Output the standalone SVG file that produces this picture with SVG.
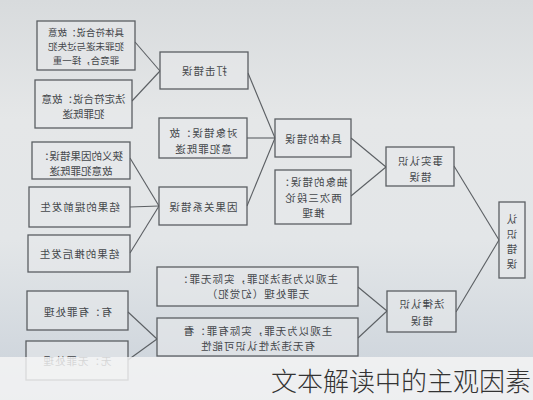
<svg xmlns="http://www.w3.org/2000/svg" width="533" height="400" viewBox="0 0 533 400">
<defs>
<linearGradient id="bg" x1="0" y1="0" x2="0" y2="1">
<stop offset="0" stop-color="#d8dbdd"/>
<stop offset="0.3" stop-color="#e5e7e8"/>
<stop offset="0.6" stop-color="#e3e6e8"/>
<stop offset="0.85" stop-color="#d3d9df"/>
<stop offset="1" stop-color="#c9d1d9"/>
</linearGradient>
<style>
.box{fill:#e8eaeb;fill-opacity:0.55;stroke:#5b5f63;stroke-width:1.3}
.ln{stroke:#5b5f63;stroke-width:1.1;fill:none}
.t{font-family:"Noto Sans CJK SC","Noto Sans CJK TC",sans-serif;font-size:10.5px;fill:#44474b;text-anchor:middle;dominant-baseline:central}
.s{font-size:9.5px}
.w{letter-spacing:1px}
.wm{font-family:"Noto Sans CJK SC",sans-serif;font-size:26px;fill:#333;font-weight:300}
</style>
</defs>
<rect x="0" y="0" width="533" height="400" fill="url(#bg)"/>
<g id="connectors">
<line class="ln" x1="135" y1="42" x2="160" y2="71"/>
<line class="ln" x1="132" y1="101" x2="160" y2="71"/>
<line class="ln" x1="130" y1="158" x2="159" y2="206"/>
<line class="ln" x1="130" y1="207" x2="159" y2="206"/>
<line class="ln" x1="130" y1="253" x2="159" y2="206"/>
<line class="ln" x1="128" y1="312" x2="157" y2="339"/>
<line class="ln" x1="128" y1="360" x2="157" y2="339"/>
<line class="ln" x1="248" y1="73" x2="275" y2="138"/>
<line class="ln" x1="247" y1="138" x2="275" y2="138"/>
<line class="ln" x1="247" y1="206" x2="275" y2="138"/>
<line class="ln" x1="351" y1="138" x2="386" y2="167"/>
<line class="ln" x1="351" y1="196" x2="386" y2="167"/>
<line class="ln" x1="358" y1="287" x2="387" y2="311"/>
<line class="ln" x1="358" y1="338" x2="387" y2="311"/>
<line class="ln" x1="454" y1="166" x2="499" y2="240"/>
<line class="ln" x1="456" y1="312" x2="499" y2="240"/>
</g>
<g id="n1"><rect class="box" x="37" y="21" width="98" height="49"/>
<text class="t s" transform="translate(86 45.5) scale(-1 1)"><tspan x="0" y="-14">具体符合说：故意</tspan><tspan x="0" y="0">犯罪未遂与过失犯</tspan><tspan x="0" y="14">罪竞合，择一重</tspan></text></g>
<g id="n2"><rect class="box" x="35" y="80" width="97" height="48"/>
<text class="t" transform="translate(83.5 105) scale(-1 1)"><tspan x="0" y="-7.5">法定符合说：故意</tspan><tspan x="0" y="7.5">犯罪既遂</tspan></text></g>
<g id="n3"><rect class="box" x="160" y="52" width="88" height="37"/>
<text class="t w" transform="translate(204 70.5) scale(-1 1)">打击错误</text></g>
<g id="n4"><rect class="box" x="159" y="118" width="88" height="40"/>
<text class="t w" transform="translate(203 140) scale(-1 1)"><tspan x="0" y="-8">对象错误：故</tspan><tspan x="0" y="8">意犯罪既遂</tspan></text></g>
<g id="n5"><rect class="box" x="32" y="142" width="98" height="37"/>
<text class="t" transform="translate(81 162.5) scale(-1 1)"><tspan x="0" y="-7.5">狭义的因果错误：</tspan><tspan x="0" y="7.5">故意犯罪既遂</tspan></text></g>
<g id="n6"><rect class="box" x="29" y="187" width="101" height="40"/>
<text class="t w" transform="translate(79.5 206) scale(-1 1)">结果的提前发生</text></g>
<g id="n7"><rect class="box" x="28" y="235" width="102" height="37"/>
<text class="t w" transform="translate(79 253) scale(-1 1)">结果的推后发生</text></g>
<g id="n8"><rect class="box" x="159" y="187" width="88" height="38"/>
<text class="t w" transform="translate(203 206) scale(-1 1)">因果关系错误</text></g>
<g id="n9"><rect class="box" x="275" y="119" width="76" height="38"/>
<text class="t w" transform="translate(313 138) scale(-1 1)">具体的错误</text></g>
<g id="n10"><rect class="box" x="275" y="170" width="76" height="54"/>
<text class="t w" transform="translate(313 196.5) scale(-1 1)"><tspan x="0" y="-15.5">抽象的错误：</tspan><tspan x="0" y="0">两次三段论</tspan><tspan x="0" y="15.5">推理</tspan></text></g>
<g id="n11"><rect class="box" x="386" y="147" width="68" height="39"/>
<text class="t w" transform="translate(420 168) scale(-1 1)"><tspan x="0" y="-8">事实认识</tspan><tspan x="0" y="8">错误</tspan></text></g>
<g id="n12"><rect class="box" x="499" y="202" width="26" height="76"/>
<text class="t" transform="translate(512 0) scale(-1 1)"><tspan x="0" y="218">认</tspan><tspan x="0" y="233">识</tspan><tspan x="0" y="248">错</tspan><tspan x="0" y="263">误</tspan></text></g>
<g id="n13"><rect class="box" x="157" y="267" width="201" height="39"/>
<text class="t w" transform="translate(257.5 285.5) scale(-1 1)"><tspan x="0" y="-7.5">主观以为违法犯罪，实际无罪：</tspan><tspan x="0" y="7.5">无罪处理（幻觉犯）</tspan></text></g>
<g id="n14"><rect class="box" x="157" y="318" width="201" height="38"/>
<text class="t w" transform="translate(257.5 337.5) scale(-1 1)"><tspan x="0" y="-7.5">主观以为无罪，实际有罪：看</tspan><tspan x="0" y="7.5">有无违法性认识可能性</tspan></text></g>
<g id="n15"><rect class="box" x="387" y="291" width="69" height="41"/>
<text class="t w" transform="translate(421.5 311.5) scale(-1 1)"><tspan x="0" y="-8.5">法律认识</tspan><tspan x="0" y="8.5">错误</tspan></text></g>
<g id="n16"><rect class="box" x="27" y="291" width="101" height="39"/>
<text class="t w" transform="translate(77.5 311) scale(-1 1)">有：有罪处理</text></g>
<g id="n17"><rect class="box" x="26" y="341" width="102" height="39"/>
<text class="t w" transform="translate(77 360) scale(-1 1)">无：无罪处理</text></g>
<rect x="0" y="357" width="533" height="43" fill="#f5f5f5" fill-opacity="0.82"/>
<text class="wm" x="531" y="391" text-anchor="end">文本解读中的主观因素</text>
</svg>
